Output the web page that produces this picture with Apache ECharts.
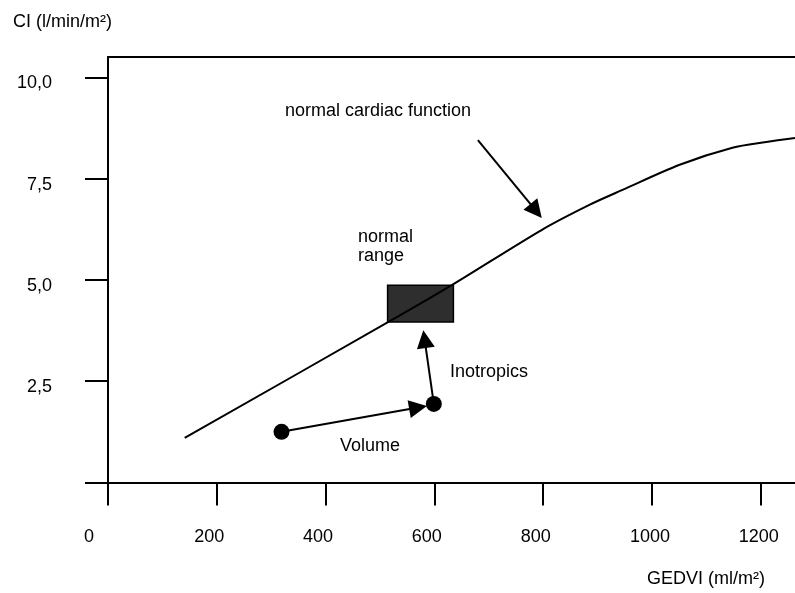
<!DOCTYPE html>
<html>
<head>
<meta charset="utf-8">
<script src="https://cdn.jsdelivr.net/npm/echarts@6/dist/echarts.min.js"></script>
<style>html,body{margin:0;padding:0;background:#fff}#chart{width:795px;height:593px}</style>
</head>
<body>
<div id="chart"></div>
<script>
// ---- data ----
const xTickValues = [0, 200, 400, 600, 800, 1000, 1200];
const yTickValues = [0, 2.5, 5, 7.5, 10];
const yLabelValues = [2.5, 5, 7.5, 10];
// normal cardiac function curve (GEDVI, CI)
const cardiacX = [141, 514, 632, 797, 885, 946, 1051, 1148, 1210, 1263];
const cardiacY = [1.10, 3.95, 4.87, 6.23, 6.85, 7.22, 7.84, 8.26, 8.40, 8.50];
// patient states
const stateX = [319, 599];
const stateY = [1.25, 1.94];
// normal range box
const normalRangeX = [514, 635];
const normalRangeY = [3.96, 4.87];
// arrows [from, to]
const volumeArrow = [[319, 1.25], [570, 1.85]];
const inotropicsArrow = [[599, 1.94], [582, 3.54]];
const cardiacArrow = [[680, 8.45], [787, 6.70]];

const FONT = "'Liberation Sans', Arial, sans-serif";
const chart = echarts.init(document.getElementById('chart'), null, {renderer: 'canvas'});
const txt = (t, x, y) => ({
  type: 'text', x: x, y: y,
  style: {text: t, font: '18px ' + FONT, fill: '#000', align: 'left', verticalAlign: 'middle'}
});
const axisLineStyle = {color: '#000', width: 2};

const option = {
  animation: false,
  backgroundColor: '#fff',
  grid: {left: 108, top: 57, right: 0, bottom: 110.5},
  xAxis: [{
    type: 'value', min: 0, max: 1263, interval: 200,
    axisLine: {show: true, onZero: false, lineStyle: axisLineStyle},
    axisTick: {show: true, length: 23, customValues: xTickValues, lineStyle: axisLineStyle},
    axisLabel: {
      customValues: xTickValues, margin: 46, color: '#000',
      formatter: v => v === 0 ? '{z|0}' : (v >= 1000 ? '{b|' + v + '}' : '{a|' + v + '}'),
      rich: {
        z: {fontSize: 18, fontFamily: FONT, color: '#000', padding: [0, 38, 0, 0]},
        a: {fontSize: 18, fontFamily: FONT, color: '#000', padding: [0, 15, 0, 0]},
        b: {fontSize: 18, fontFamily: FONT, color: '#000', padding: [0, 4, 0, 0]}
      }
    },
    splitLine: {show: false}
  }, {
    type: 'value', position: 'top', min: 0, max: 1263,
    axisLine: {show: true, onZero: false, lineStyle: axisLineStyle},
    axisTick: {show: false}, axisLabel: {show: false}, splitLine: {show: false}
  }],
  yAxis: {
    type: 'value', min: 0, max: 10.5,
    axisLine: {show: true, onZero: false, lineStyle: axisLineStyle},
    axisTick: {show: true, length: 23, customValues: yTickValues, lineStyle: axisLineStyle},
    axisLabel: {
      customValues: yLabelValues, margin: 56, fontSize: 18, fontFamily: FONT, color: '#000',
      verticalAlign: 'top', lineHeight: 12,
      formatter: v => v.toFixed(1).replace('.', ',')
    },
    splitLine: {show: false}
  },
  series: [
    {
      type: 'line', name: 'normal cardiac function', smooth: 0.3, symbol: 'none',
      data: cardiacX.map((x, i) => [x, cardiacY[i]]),
      lineStyle: {color: '#000', width: 2}, z: 2
    },
    {
      type: 'scatter', name: 'normal range', data: [], z: 3,
      markArea: {
        silent: true,
        itemStyle: {color: '#2e2e2e', borderColor: '#000', borderWidth: 1.5},
        data: [[{coord: [normalRangeX[0], normalRangeY[0]]}, {coord: [normalRangeX[1], normalRangeY[1]]}]]
      }
    },
    {
      type: 'lines', coordinateSystem: 'cartesian2d', z: 4,
      symbol: ['none', 'triangle'], symbolSize: [12, 18],
      lineStyle: {color: '#000', width: 2, opacity: 1},
      data: [{coords: volumeArrow}, {coords: inotropicsArrow}, {coords: cardiacArrow}]
    },
    {
      type: 'scatter', name: 'patient', symbol: 'circle', symbolSize: 16, z: 5,
      itemStyle: {color: '#000', opacity: 1},
      data: stateX.map((x, i) => [x, stateY[i]])
    }
  ],
  graphic: [
    txt('CI (l/min/m²)', 13, 22),
    txt('GEDVI (ml/m²)', 647, 579),
    txt('normal cardiac function', 285, 111),
    txt('normal', 358, 237),
    txt('range', 358, 256),
    txt('Inotropics', 450, 372),
    txt('Volume', 340, 446)
  ]
};
chart.setOption(option);
</script>
</body>
</html>
